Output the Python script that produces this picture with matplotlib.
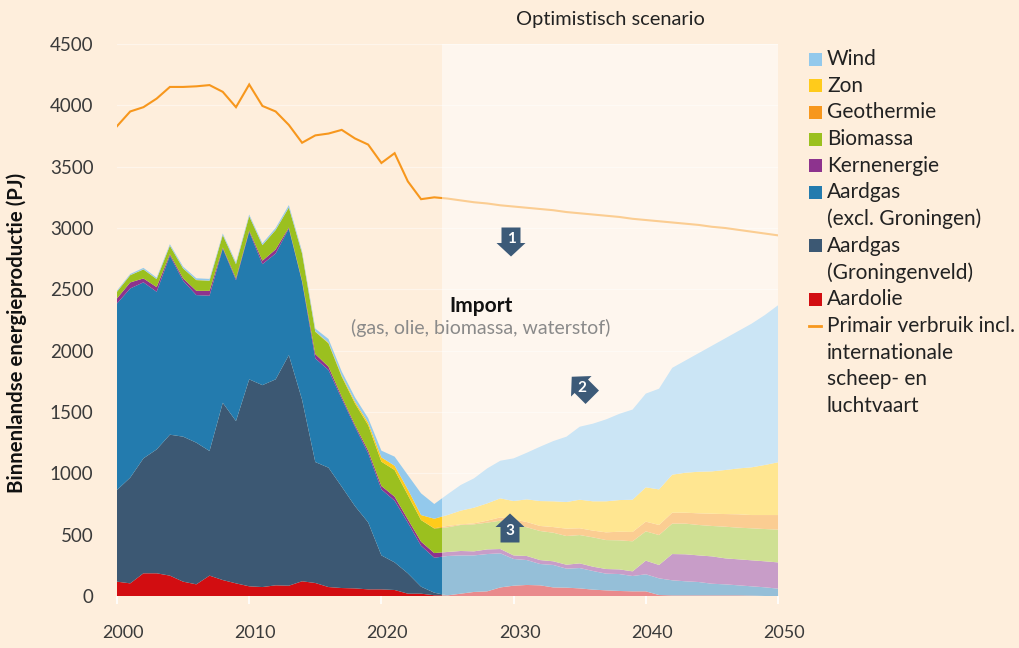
import numpy as np
import matplotlib
matplotlib.use("Agg")
import matplotlib.pyplot as plt
from matplotlib.patches import Polygon, Rectangle
from matplotlib.lines import Line2D
from matplotlib.transforms import IdentityTransform, ScaledTranslation

plt.rcParams['font.family'] = ['Lato', 'DejaVu Sans']

years = np.arange(2000, 2051)
xticks = [2000, 2010, 2020, 2030, 2040, 2050]
yticks = [0, 500, 1000, 1500, 2000, 2500, 3000, 3500, 4000, 4500]

# upper edge of each stacked band (PJ)
aardolie_top = [117,103,185,185,166,117,95,166,130,103,79,73,87,84,120,106,73,65,62,54,54,49,19,19,6,
                5,19,33,38,70,84,90,87,70,68,62,52,46,41,38,38,8,5,5,5,5,5,5,3,0,0]
groningen_top = [864,965,1122,1195,1315,1299,1250,1182,1575,1426,1766,1719,1766,1964,1600,1092,1046,891,733,600,331,274,185,76,27,
                 5,19,33,38,70,84,90,87,70,68,62,52,46,41,38,38,8,5,5,5,5,5,5,3,0,0]
aardgas_top = [2385,2507,2557,2480,2774,2570,2453,2448,2833,2575,2970,2705,2792,2996,2562,1937,1842,1608,1380,1163,869,777,598,410,312,
               326,331,331,342,348,302,293,261,253,223,228,204,182,179,163,177,144,128,120,114,100,95,87,79,71,60]
kern_top = [2426,2556,2589,2518,2787,2589,2488,2488,2841,2589,2980,2733,2825,3004,2570,1972,1869,1625,1395,1185,897,810,625,443,350,
            359,367,364,380,383,331,326,293,283,255,266,239,220,217,201,288,253,342,340,331,323,307,299,291,283,274]
bio_top = [2480,2615,2662,2583,2855,2670,2575,2570,2942,2705,3096,2860,2983,3167,2792,2154,2059,1788,1570,1393,1095,1027,823,619,550,
           560,579,584,598,614,592,560,530,516,489,497,478,456,454,446,527,497,590,590,579,571,565,557,552,546,541]
geo_top = [2480,2615,2662,2583,2855,2670,2575,2570,2942,2705,3096,2860,2983,3167,2792,2154,2059,1788,1570,1393,1095,1027,823,619,552,
           571,584,592,614,641,625,603,571,562,549,552,533,519,524,522,606,579,679,679,674,671,668,666,660,660,660]
zon_top = [2481,2616,2663,2584,2856,2671,2576,2571,2943,2706,3097,2861,2984,3168,2795,2157,2064,1796,1585,1413,1130,1062,869,660,630,
           660,696,720,755,796,774,788,774,772,766,785,772,772,782,785,886,869,989,1005,1013,1016,1027,1040,1049,1068,1090]
wind_top = [2490,2625,2675,2595,2868,2685,2590,2585,2955,2720,3110,2875,3000,3187,2810,2180,2095,1830,1620,1450,1185,1136,986,837,750,
            829,905,959,1040,1103,1122,1168,1217,1263,1299,1380,1405,1440,1485,1520,1650,1690,1860,1920,1980,2040,2100,2160,2220,2290,2370]
verbruik = [3830,3950,3985,4055,4150,4150,4155,4165,4110,3985,4170,3995,3950,3840,3695,3755,3770,3800,3730,3680,3530,3610,3380,3235,3250,
            3240,3225,3210,3200,3185,3175,3165,3155,3145,3130,3120,3110,3100,3090,3075,3065,3055,3045,3035,3025,3010,3000,2985,2970,2955,2940]

labels = ['Aardolie', 'Aardgas\n(Groningenveld)', 'Aardgas\n(excl. Groningen)', 'Kernenergie',
          'Biomassa', 'Geothermie', 'Zon', 'Wind']
colors = ['#D20D11', '#3C5873', '#237BAE', '#8D338E', '#9BC01F', '#F7971D', '#FFCB1B', '#93C9EC']
line_label = 'Primair verbruik incl.\ninternationale\nscheep- en\nluchtvaart'

BG = '#FEEEDC'
tops = np.array([aardolie_top, groningen_top, aardgas_top, kern_top, bio_top, geo_top, zon_top, wind_top], float)
bands = np.diff(np.vstack([np.zeros(len(years)), tops]), axis=0)

W, H = 1020, 648
fig = plt.figure(figsize=(W/100, H/100), dpi=100, facecolor=BG)
ax = fig.add_axes([117/W, 1-596/H, (778-117)/W, (596-44)/H], facecolor=BG)

ax.stackplot(years, bands, colors=colors, linewidth=0, zorder=2)
ax.plot(years, verbruik, color='#F7971D', lw=1.5, zorder=3, solid_joinstyle='miter')
ax.axvspan(2024.6, 2050, color='white', alpha=0.52, lw=0, zorder=4)

ax.set_xlim(2000, 2050)
ax.set_ylim(0, 4500)
ax.set_xticks(xticks)
ax.set_yticks(yticks)
ax.grid(axis='y', color='white', alpha=0.45, lw=0.9, zorder=1)
ax.set_axisbelow(True)
for s in ax.spines.values():
    s.set_visible(False)
ax.tick_params(axis='y', length=0, pad=17, labelsize=13.5, labelcolor='#3a3a3a')
ax.tick_params(axis='x', length=6, width=1.2, color='white', pad=15, labelsize=13, labelcolor='#3a3a3a')
shift = ScaledTranslation(6/100, 0, fig.dpi_scale_trans)
for lab in ax.get_xticklabels():
    lab.set_transform(lab.get_transform() + shift)

fig.text(17/W, 1-333/H, 'Binnenlandse energieproductie (PJ)', rotation=90, ha='center', va='center',
         fontsize=14.7, fontweight='bold', color='#111111')
fig.text(610/W, 1-20/H, 'Optimistisch scenario', ha='center', va='center', fontsize=14.4, color='#222222')
fig.text(481/W, 1-306/H, 'Import', ha='center', va='center', fontsize=15, fontweight='bold', color='#111111', zorder=6)
fig.text(481/W, 1-328/H, '(gas, olie, biomassa, waterstof)', ha='center', va='center', fontsize=14, color='#8a8a8a', zorder=6)

# legend, top to bottom, one row every 26.7 px
ROW = 26.7
row = 0
for lab, col in list(zip(labels, colors))[::-1] + [(line_label, None)]:
    y = 59 + row * ROW
    if col is None:
        fig.add_artist(Line2D([809/W, 821/W], [1-y/H, 1-y/H], color='#F7971D', lw=2))
    else:
        fig.add_artist(Rectangle((809/W, 1-(y+6.5)/H), 13/W, 13/H, fc=col, ec='none'))
    for part in lab.split('\n'):
        fig.text(827/W, 1-(y)/H, part, ha='left', va='center', fontsize=15, color='#222222')
        y += ROW
        row += 1

# numbered arrows
ARROW = np.array([[-9.5, 14.5], [9.5, 14.5], [9.5, -1], [14.5, -1], [0, -14.5], [-14.5, -1], [-9.5, -1]])
def arrow(cx, cy, angle, num, dy):
    a = np.deg2rad(angle)
    R = np.array([[np.cos(a), -np.sin(a)], [np.sin(a), np.cos(a)]])
    pts = ARROW @ R.T + [cx, H - cy]
    fig.add_artist(Polygon(pts, closed=True, fc='#3C5A78', ec='none', transform=IdentityTransform(), zorder=6))
    fig.text(cx/W, 1-(cy + dy)/H, num, ha='center', va='center', color='white', fontsize=11, fontweight='bold', zorder=7)

arrow(511, 242, 0, '1', -3)
arrow(582, 387, -135, '2', 1)
arrow(510, 528, 180, '3', 3)

fig.savefig('out.png', dpi=100, facecolor=BG)
